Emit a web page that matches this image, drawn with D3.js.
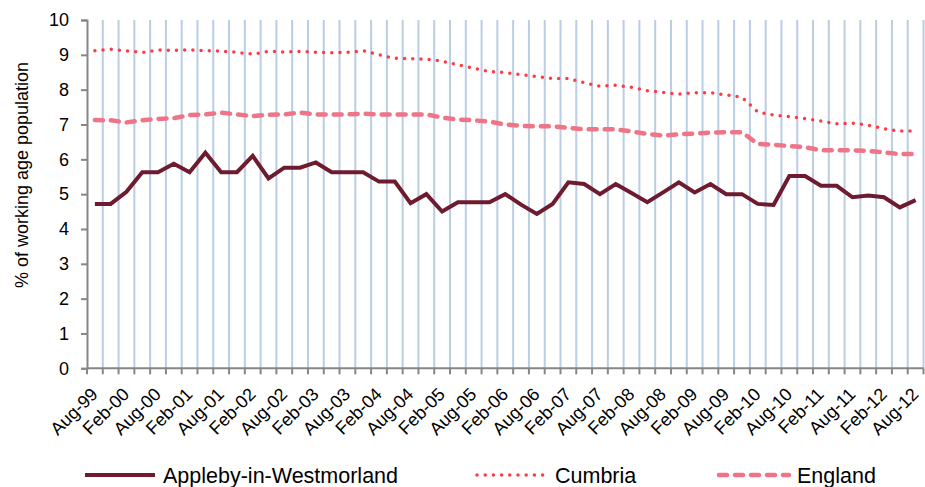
<!DOCTYPE html>
<html>
<head>
<meta charset="utf-8">
<script src="https://cdn.jsdelivr.net/npm/d3@7"></script>
<style>
  body { margin: 0; background: #fff; }
  svg { display: block; font-family: "Liberation Sans", Arial, sans-serif; }
</style>
</head>
<body>
<div id="chart"></div>
<script>
// quarterly points, Aug-99 .. Aug-12
var quarters = [
    'Aug-99', 'Nov-99', 'Feb-00', 'May-00', 'Aug-00', 'Nov-00', 'Feb-01', 'May-01', 'Aug-01', 'Nov-01',
    'Feb-02', 'May-02', 'Aug-02', 'Nov-02', 'Feb-03', 'May-03', 'Aug-03', 'Nov-03', 'Feb-04', 'May-04',
    'Aug-04', 'Nov-04', 'Feb-05', 'May-05', 'Aug-05', 'Nov-05', 'Feb-06', 'May-06', 'Aug-06', 'Nov-06',
    'Feb-07', 'May-07', 'Aug-07', 'Nov-07', 'Feb-08', 'May-08', 'Aug-08', 'Nov-08', 'Feb-09', 'May-09',
    'Aug-09', 'Nov-09', 'Feb-10', 'May-10', 'Aug-10', 'Nov-10', 'Feb-11', 'May-11', 'Aug-11', 'Nov-11',
    'Feb-12', 'May-12', 'Aug-12'
];

var appleby = [
    4.72, 4.72, 5.07, 5.63, 5.63, 5.87, 5.63, 6.19, 5.63, 5.63,
    6.1, 5.45, 5.76, 5.76, 5.91, 5.63, 5.63, 5.63, 5.36, 5.36,
    4.74, 5.0, 4.5, 4.77, 4.77, 4.77, 5.0, 4.7, 4.43, 4.72,
    5.34, 5.29, 5.0, 5.29, 5.03, 4.77, 5.05, 5.34, 5.05, 5.29,
    5.0, 5.0, 4.72, 4.69, 5.52, 5.52, 5.24, 5.24, 4.91, 4.96,
    4.91, 4.62, 4.83
];

var cumbria = [
    9.12, 9.16, 9.11, 9.07, 9.14, 9.13, 9.14, 9.12, 9.11, 9.07,
    9.02, 9.1, 9.08, 9.1, 9.07, 9.06, 9.07, 9.12, 9.0, 8.9,
    8.89, 8.88, 8.82, 8.71, 8.62, 8.52, 8.49, 8.43, 8.38, 8.32,
    8.32, 8.2, 8.1, 8.13, 8.07, 7.97, 7.92, 7.87, 7.91, 7.91,
    7.85, 7.78, 7.36, 7.27, 7.23, 7.17, 7.1, 7.02, 7.04, 6.98,
    6.88, 6.81, 6.82
];

var england = [
    7.13, 7.12, 7.06, 7.12, 7.16, 7.18, 7.27, 7.29, 7.34, 7.29,
    7.24, 7.28, 7.29, 7.34, 7.29, 7.29, 7.29, 7.31, 7.29, 7.29,
    7.29, 7.29, 7.2, 7.14, 7.12, 7.08, 7.0, 6.96, 6.95, 6.95,
    6.9, 6.86, 6.86, 6.86, 6.8, 6.73, 6.68, 6.72, 6.74, 6.77,
    6.78, 6.78, 6.44, 6.42, 6.38, 6.35, 6.26, 6.26, 6.26, 6.24,
    6.2, 6.15, 6.15
];

var yTicks = [0, 1, 2, 3, 4, 5, 6, 7, 8, 9, 10];
var xTickLabels = quarters.filter(q => q.startsWith('Aug') || q.startsWith('Feb'));

var seriesNames = ['Appleby-in-Westmorland', 'Cumbria', 'England'];

var width = 925, height = 487;
var margin = {top: 20, left: 87, right: 1.5, bottom: 118.7};
var plotW = width - margin.left - margin.right,
    plotH = height - margin.top - margin.bottom;

var svg = d3.select('#chart')
    .append('svg')
    .attr('width', width)
    .attr('height', height);

var g = svg.append('g')
    .attr('transform', 'translate(' + margin.left + ',' + margin.top + ')');

var x = d3.scaleBand()
    .domain(quarters)
    .range([0, plotW])
    .padding(0);

var y = d3.scaleLinear()
    .domain([0, 10])
    .range([plotH, 0]);

// vertical blue gridlines on the category boundaries
var bounds = quarters.slice(1).map(q => x(q)).concat([plotW]);
g.selectAll('.vgrid')
    .data(bounds)
    .enter().append('line')
    .attr('class', 'vgrid')
    .attr('x1', d => d).attr('x2', d => d)
    .attr('y1', 0).attr('y2', plotH)
    .attr('stroke', '#b9cde5')
    .attr('stroke-width', 2);

// y axis
var yAxis = g.append('g')
    .call(d3.axisLeft(y).tickValues(yTicks).tickSize(6).tickPadding(12).tickFormat(d3.format('d')));
yAxis.select('.domain').attr('stroke', '#868686').attr('stroke-width', 2);
yAxis.selectAll('.tick line').attr('stroke', '#868686').attr('stroke-width', 2);
yAxis.selectAll('.tick text')
    .attr('font-size', 18)
    .attr('font-family', '"Liberation Sans", Arial, sans-serif')
    .attr('fill', '#000');

// x axis: ticks on every boundary, labels on Aug / Feb
var xAxisG = g.append('g').attr('transform', 'translate(0,' + plotH + ')');
xAxisG.append('line')
    .attr('x1', 0).attr('x2', plotW)
    .attr('stroke', '#868686').attr('stroke-width', 2);
xAxisG.selectAll('.xtick')
    .data([0].concat(bounds))
    .enter().append('line')
    .attr('class', 'xtick')
    .attr('x1', d => d).attr('x2', d => d)
    .attr('y1', 0).attr('y2', 6)
    .attr('stroke', '#868686').attr('stroke-width', 2);
xAxisG.selectAll('.xlabel')
    .data(xTickLabels)
    .enter().append('text')
    .attr('class', 'xlabel')
    .attr('transform', d => 'translate(' + (x(d) + x.bandwidth() / 2 + 4) + ',27) rotate(-45)')
    .attr('text-anchor', 'end')
    .attr('font-size', 18)
    .attr('fill', '#000')
    .text(d => d);

// y axis title
svg.append('text')
    .attr('transform', 'translate(28,175) rotate(-90)')
    .attr('text-anchor', 'middle')
    .attr('font-size', 18)
    .attr('fill', '#000')
    .text('% of working age population');

var styles = [
    {color: '#6e1b2f', width: 4, dash: null, cap: 'butt'},
    {color: '#ff3a45', width: 3.5, dash: '0 8.2', cap: 'round'},
    {color: '#ef7486', width: 4.5, dash: '8 8', cap: 'round'}
];
var allSeries = [appleby, cumbria, england];

var line = d3.line()
    .x((d, i) => x(quarters[i]) + x.bandwidth() / 2)
    .y(d => y(d));

// draw England and Cumbria first, Appleby on top
[2, 1, 0].forEach(k => {
    g.append('path')
        .datum(allSeries[k])
        .attr('fill', 'none')
        .attr('stroke', styles[k].color)
        .attr('stroke-width', styles[k].width)
        .attr('stroke-dasharray', styles[k].dash)
        .attr('stroke-linecap', styles[k].cap)
        .attr('stroke-linejoin', 'miter')
        .attr('d', line);
});

// legend
var legendPos = [85, 477, 719];
var legend = svg.append('g').attr('transform', 'translate(0,475)');
seriesNames.forEach((name, k) => {
    legend.append('line')
        .attr('x1', legendPos[k]).attr('x2', legendPos[k] + 70)
        .attr('stroke', styles[k].color)
        .attr('stroke-width', styles[k].width)
        .attr('stroke-dasharray', styles[k].dash)
        .attr('stroke-linecap', styles[k].cap);
    legend.append('text')
        .attr('x', legendPos[k] + 78)
        .attr('y', 7.5)
        .attr('font-size', 21.5)
        .attr('fill', '#000')
        .text(name);
});
</script>
</body>
</html>
